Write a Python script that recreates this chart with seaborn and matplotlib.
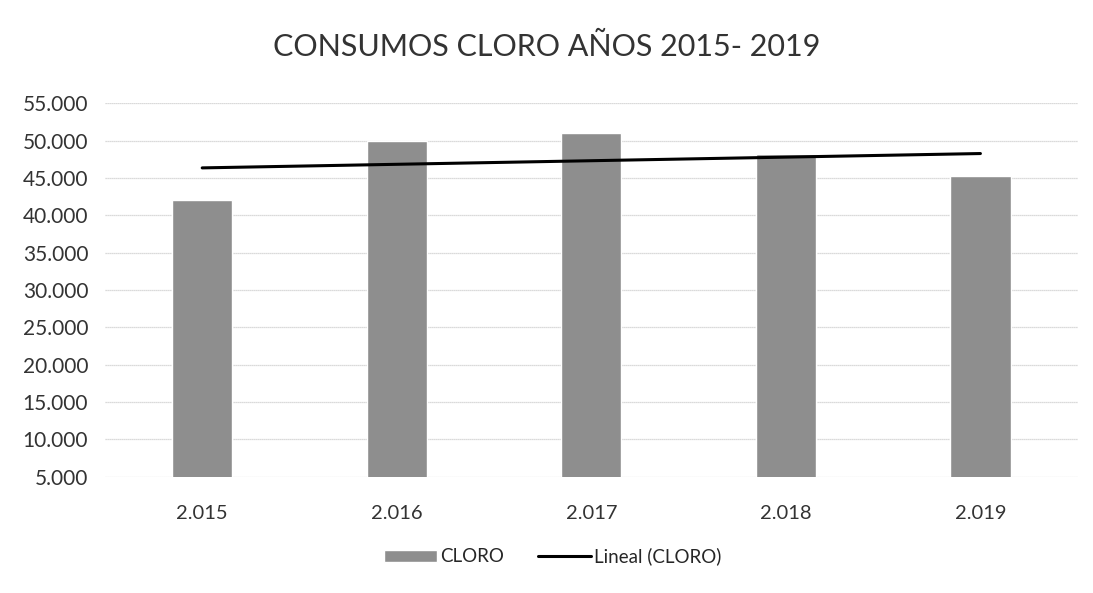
import numpy as np
import pandas as pd
import matplotlib
matplotlib.use('Agg')
import matplotlib.pyplot as plt
import seaborn as sns
from matplotlib.patches import Patch
from matplotlib.lines import Line2D

# datos
years = ['2.015', '2.016', '2.017', '2.018', '2.019']
cloro = [42000, 50000, 51000, 48200, 45300]
yticks = [5000, 10000, 15000, 20000, 25000, 30000, 35000, 40000, 45000, 50000, 55000]

sns.set_style('white')
plt.rcParams['font.family'] = ['Lato', 'DejaVu Sans']

df = pd.DataFrame({'year': years, 'cloro': cloro, 'pos': range(len(years))})

fig = plt.figure(figsize=(10.93, 5.93), dpi=100)
ax = fig.add_axes([0.096, 0.196, 0.89, 0.63])

sns.barplot(x='year', y='cloro', data=df, color='#8e8e8e', saturation=1,
            width=0.31, ax=ax, zorder=2)

# linea de tendencia (regresion lineal)
sns.regplot(x='pos', y='cloro', data=df, scatter=False, ci=None, truncate=True,
            line_kws={'color': 'black', 'lw': 2.2, 'zorder': 3}, ax=ax)

ax.set_ylim(5000, 55000)
ax.set_xlim(-0.5, 4.5)
ax.set_yticks(yticks)
ax.set_yticklabels([f'{v:,.0f}'.replace(',', '.') for v in yticks], fontsize=15, color='#333333')
ax.set_xticks(range(len(years)))
ax.set_xticklabels(years, fontsize=14.5, color='#333333')
ax.tick_params(axis='y', length=0, pad=12)
ax.tick_params(axis='x', length=0, pad=20)
ax.set_xlabel('')
ax.set_ylabel('')
ax.yaxis.grid(True, color='#cfcfcf', lw=0.9, linestyle=(0, (1, 0.6)), zorder=0)
ax.set_axisbelow(True)
for s in ax.spines.values():
    s.set_visible(False)

fig.suptitle('CONSUMOS CLORO AÑOS 2015- 2019', y=0.945, fontsize=22, color='#333333')

handles = [Patch(facecolor='#8e8e8e', label='CLORO'),
           Line2D([0], [0], color='black', lw=2.2, label='Lineal (CLORO)')]
fig.legend(handles=handles, loc='center', bbox_to_anchor=(0.506, 0.062), ncol=2,
           frameon=False, fontsize=13.5, handlelength=2.8, handleheight=0.6,
           columnspacing=1.8, handletextpad=0.2)

fig.savefig('out.png', dpi=100)
